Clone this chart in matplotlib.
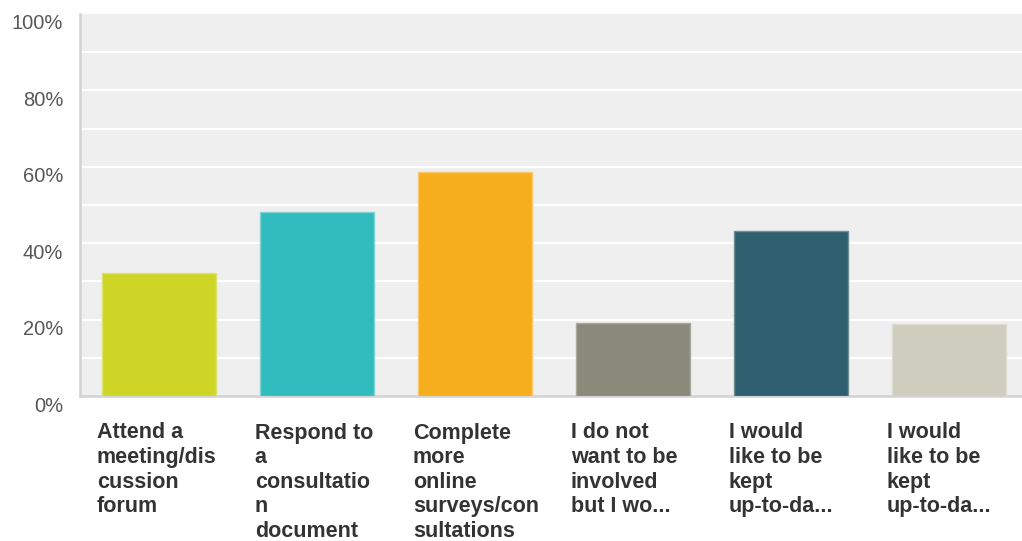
import matplotlib.pyplot as plt
from matplotlib.transforms import ScaledTranslation, blended_transform_factory

# survey answers, percent of respondents
categories = [
    "Attend a\nmeeting/dis\ncussion\nforum",
    "Respond to\na\nconsultatio\nn\ndocument",
    "Complete\nmore\nonline\nsurveys/con\nsultations",
    "I do not\nwant to be\ninvolved\nbut I wo...",
    "I would\nlike to be\nkept\nup-to-da...",
    "I would\nlike to be\nkept\nup-to-da...",
]
percentages = [32.2, 48.2, 58.7, 19.2, 43.3, 18.8]
bar_colors = ["#cfd526", "#33bcbe", "#f6ae1f", "#8a8a7a", "#2e5f6e", "#cfcdbe"]
edge_colors = ["#dde36a", "#7fd4d5", "#f9c86a", "#a9a99c", "#6f8f99", "#dedcd1"]
y_ticks = [0, 20, 40, 60, 80, 100]
y_labels = ["0%", "20%", "40%", "60%", "80%", "100%"]

plt.rcParams["font.family"] = ["Liberation Sans", "DejaVu Sans"]

W, H = 1022, 541
fig = plt.figure(figsize=(W / 100, H / 100), dpi=100)
ax = fig.add_axes([80 / W, (H - 396) / H, (W - 80) / W, (396 - 14) / H])
ax.set_facecolor("#efefef")

x = range(len(percentages))
ax.bar(x, percentages, width=0.725, color=bar_colors, edgecolor=edge_colors,
       linewidth=1, zorder=3)

ax.set_xlim(-0.5, -0.5 + (W - 80) / 158)
ax.set_ylim(0, 100)

# white grid every 10%
for g in range(10, 100, 10):
    ax.axhline(g, color="white", linewidth=1.6, zorder=1)

for side in ("top", "right"):
    ax.spines[side].set_visible(False)
for side in ("left", "bottom"):
    ax.spines[side].set_color("#d2d2d2")
    ax.spines[side].set_linewidth(1.8)

ax.set_xticks([])
ax.set_yticks([])

# y labels sit a little below their gridlines
ylab_tf = blended_transform_factory(fig.transFigure, ax.transData) + \
    ScaledTranslation(0, -10 / 100, fig.dpi_scale_trans)
for t, lab in zip(y_ticks, y_labels):
    fig.text(63 / W, t, lab, transform=ylab_tf, ha="right", va="center",
             fontsize=14.5, color="#585858")

# category labels, left aligned under each bar
xlab_tf = blended_transform_factory(ax.transData, ax.transAxes) + \
    ScaledTranslation(-5 / 100, -26.5 / 100, fig.dpi_scale_trans)
for i, lab in enumerate(categories):
    ax.text(i - 0.3625, 0, lab, transform=xlab_tf, ha="left", va="top",
            fontsize=15.5, fontweight="bold", color="#333333", linespacing=1.225,
            clip_on=False)

fig.savefig("out.png", dpi=100, facecolor="white")
